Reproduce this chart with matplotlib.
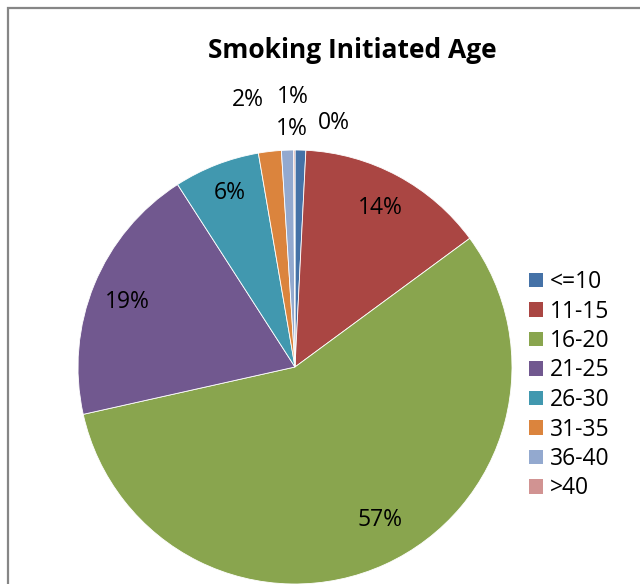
import matplotlib
matplotlib.use("Agg")
import matplotlib.pyplot as plt
from matplotlib.patches import Rectangle, Patch
import numpy as np

categories = ["<=10", "11-15", "16-20", "21-25", "26-30", "31-35", "36-40", ">40"]
values = [0.8, 14.1, 56.6, 19.4, 6.4, 1.7, 0.9, 0.1]
colors = ["#4572A7", "#AA4643", "#89A54E", "#71588F", "#4198AF", "#DB843D", "#93A9CF", "#D19392"]
label_texts = ["1%", "14%", "57%", "19%", "6%", "2%", "1%", "0%"]
title = "Smoking Initiated Age"

W, H = 640, 584
fig = plt.figure(figsize=(W / 100, H / 100), dpi=100)
plt.rcParams['font.family'] = ['Open Sans', 'DejaVu Sans']

# border
fig.patches.append(Rectangle((8 / W, -0.1), 1.2, (H - 8) / H + 0.1, transform=fig.transFigure,
                             fill=False, edgecolor="#868686", linewidth=1.6))

cx, cy, r = 295, 367, 217
ax = fig.add_axes([(cx - r) / W, (H - cy - r) / H, 2 * r / W, 2 * r / H])
wedges, _ = ax.pie(values, colors=colors, startangle=90, counterclock=False, radius=1,
                   wedgeprops=dict(edgecolor="white", linewidth=0.6))
ax.set_xlim(-1, 1)
ax.set_ylim(-1, 1)
ax.set_aspect("equal")
ax.axis("off")

# label positions (pixels)
label_px = [(292, 129), (380, 208), (380, 520), (127, 302), (230, 193), (248, 100), (293, 97), (334, 123)]
for txt, (px, py) in zip(label_texts, label_px):
    ax.text((px - cx) / r, (cy - py) / r, txt, ha="center", va="center", fontsize=16.5,
            color="black", clip_on=False)

fig.text(352 / W, 1 - 50 / H, title, ha="center", va="center", fontsize=19, fontweight="bold")

handles = [Patch(facecolor=c, edgecolor="none") for c in colors]
leg = fig.legend(handles, categories, loc="upper left", bbox_to_anchor=(529 / W, 1 - 270 / H),
                 frameon=False, fontsize=16.5, handlelength=0.6, handleheight=0.6,
                 handletextpad=0.3, labelspacing=0.24, borderpad=0, borderaxespad=0)

fig.savefig("out.png", dpi=100)
